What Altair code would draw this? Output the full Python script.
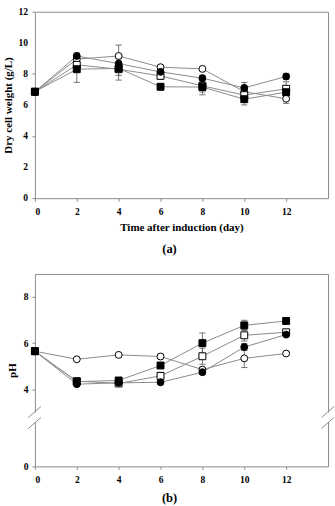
import altair as alt
import pandas as pd

FONT = "Liberation Serif"
GRAY = "#8c8c8c"

days = [0, 2, 4, 6, 8, 10, 12]
series = ["filled circle", "open circle", "filled square", "open square"]
draw_order = ["open circle", "open square", "filled circle", "filled square"]
x_ticks = [0, 2, 4, 6, 8, 10, 12]

# (a) Dry cell weight (g/L)
dcw = {
    "filled circle": [6.85, 9.15, 8.66, 8.13, 7.72, 7.10, 7.83],
    "open circle":   [6.85, 8.95, 9.15, 8.43, 8.32, 6.85, 6.40],
    "filled square": [6.85, 8.30, 8.35, 7.17, 7.15, 6.37, 6.82],
    "open square":   [6.85, 8.58, 8.30, 7.87, 7.23, 6.63, 7.04],
}
dcw_err = {
    "filled circle": [0, 0.20, 0.30, 0.15, 0.20, 0.35, 0.20],
    "open circle":   [0, 0.30, 0.70, 0.10, 0.10, 0.30, 0.30],
    "filled square": [0, 0.85, 0.75, 0.20, 0.50, 0.37, 0.20],
    "open square":   [0, 0.40, 0.40, 0.20, 0.40, 0.30, 0.45],
}
dcw_ticks = [0, 2, 4, 6, 8, 10, 12]

# (b) pH
ph = {
    "filled circle": [5.65, 4.22, 4.28, 4.30, 4.74, 5.83, 6.37],
    "open circle":   [5.65, 5.30, 5.49, 5.42, 4.85, 5.34, 5.55],
    "filled square": [5.65, 4.33, 4.38, 5.03, 6.00, 6.77, 6.96],
    "open square":   [5.65, 4.35, 4.25, 4.58, 5.43, 6.34, 6.47],
}
ph_err = {
    "filled circle": [0, 0.05, 0.05, 0.05, 0.10, 0.15, 0.05],
    "open circle":   [0, 0.05, 0.05, 0.10, 0.10, 0.40, 0.05],
    "filled square": [0, 0.05, 0.05, 0.10, 0.44, 0.22, 0.10],
    "open square":   [0, 0.05, 0.05, 0.15, 0.35, 0.25, 0.10],
}
ph_ticks = [0, 4, 6, 8]


def long(vals, errs):
    rows = []
    for s in draw_order:
        for d, v, e in zip(days, vals[s], errs[s]):
            rows.append({"day": d, "value": v, "err": e, "series": s})
    return pd.DataFrame(rows)


shape_scale = alt.Scale(domain=series, range=["circle", "circle", "square", "square"])
fill_scale = alt.Scale(domain=series, range=["black", "white", "black", "white"])

W = 294


def panel(df, yscale, yticks, ytitle, xtitle, label, h, label_y, extra, text_labels):
    xscale = alt.Scale(domain=[0, 14], nice=False, zero=False)
    xax = alt.Axis(values=x_ticks, title=xtitle, labelPadding=5, titlePadding=6,
                   labelOverlap=False)
    if text_labels:
        yax = alt.Axis(values=yticks, title=ytitle, labels=False, titlePadding=18)
    else:
        yax = alt.Axis(values=yticks, title=ytitle, labelPadding=4, titlePadding=6,
                       labelOverlap=False)
    base = alt.Chart(df)
    lines = base.mark_line(color=GRAY, strokeWidth=1).encode(
        x=alt.X("day:Q", scale=xscale, axis=xax),
        y=alt.Y("value:Q", scale=yscale, axis=yax),
        detail="series:N",
        order="day:Q",
    )
    eb = base.transform_filter("datum.err > 0").transform_calculate(
        lo="datum.value - datum.err", hi="datum.value + datum.err",
        xl="datum.day - 0.15", xr="datum.day + 0.15",
    )
    rules = eb.mark_rule(color="#555555", strokeWidth=0.8).encode(
        x="day:Q", y="lo:Q", y2="hi:Q"
    )
    cap_lo = eb.mark_rule(color="#555555", strokeWidth=0.8).encode(
        x="xl:Q", x2="xr:Q", y="lo:Q"
    )
    cap_hi = eb.mark_rule(color="#555555", strokeWidth=0.8).encode(
        x="xl:Q", x2="xr:Q", y="hi:Q"
    )
    pts = base.mark_point(filled=True, stroke="black", strokeWidth=1, opacity=1, size=48).encode(
        x="day:Q",
        y="value:Q",
        shape=alt.Shape("series:N", scale=shape_scale, legend=None),
        fill=alt.Fill("series:N", scale=fill_scale, legend=None),
    )
    lab = alt.Chart(pd.DataFrame({"t": [label]})).mark_text(
        font=FONT, fontWeight="bold", fontSize=12.5, color="black", baseline="middle"
    ).encode(text="t:N", x=alt.value(W / 2 - 12), y=alt.value(label_y))
    layers = [lines, rules, cap_lo, cap_hi, pts, lab]
    if text_labels:
        tl = alt.Chart(pd.DataFrame({"tick": yticks})).mark_text(
            font=FONT, fontWeight="bold", fontSize=9.5, color="black",
            align="right", baseline="middle",
        ).encode(text="tick:Q", y="tick:Q", x=alt.value(-7))
        layers.append(tl)
    return alt.layer(*layers, *extra).properties(width=W, height=h)


H1 = 187
H2 = 193

top = panel(
    long(dcw, dcw_err),
    alt.Scale(domain=[0, 12], nice=False, zero=False),
    dcw_ticks, "Dry cell weight (g/L)", "Time after induction (day)", "(a)", H1, H1 + 51, [], True,
)

# axis break decorations for (b)
one = pd.DataFrame({"k": [0]})
breaks = []
for xc in [0, W]:
    breaks.append(
        alt.Chart(one).mark_rect(color="white").encode(
            x=alt.value(xc - 2), x2=alt.value(xc + 2), y=alt.value(139), y2=alt.value(148.5)
        )
    )
    for y0 in [144, 155]:
        breaks.append(
            alt.Chart(one).mark_rule(color=GRAY, strokeWidth=1).encode(
                x=alt.value(xc - 6.6), x2=alt.value(xc + 6), y=alt.value(y0), y2=alt.value(y0 - 11)
            )
        )

bottom = panel(
    long(ph, ph_err),
    alt.Scale(domain=[0, 2.8, 9], range=[H2, 143.4, 0], nice=False, zero=False),
    ph_ticks, "pH", None, "(b)", H2, H2 + 32, breaks, False,
)

chart = alt.vconcat(top, bottom, spacing=17).properties(
    padding={"left": 2, "top": 5, "right": 0, "bottom": 0}
).configure_view(stroke=GRAY, strokeWidth=1).configure_axis(
    domain=False,
    grid=False,
    tickColor=GRAY,
    tickSize=3,
    labelFont=FONT,
    labelFontWeight="bold",
    labelFontSize=9.5,
    labelColor="black",
    labelOverlap=False,
    titleFont=FONT,
    titleFontWeight="bold",
    titleFontSize=11,
    titleColor="black",
).configure_concat(spacing=17)

chart.save("out.html", embed_options={"renderer": "svg", "actions": False})
